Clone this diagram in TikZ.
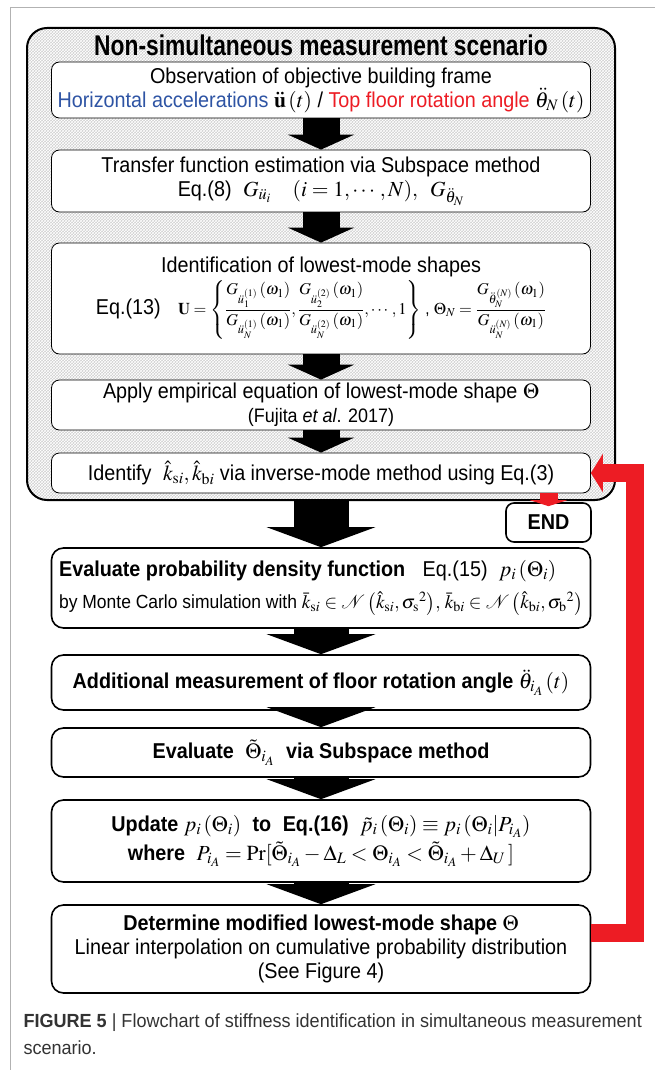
\documentclass[tikz,border=0pt]{standalone}
\usepackage{amsmath}
\usepackage{amssymb}
\usepackage{mathptmx}
\usepackage[no-math]{fontspec}
\setmainfont{Liberation Sans}[FakeStretch=0.92]
\newfontfamily\titlefont{Liberation Sans}[FakeStretch=0.8]
\newfontfamily\capfont{Liberation Sans}[FakeStretch=0.95]
\usetikzlibrary{arrows.meta,positioning,patterns}
\definecolor{fbred}{RGB}{237,28,36}
\definecolor{accblue}{RGB}{46,84,164}

\begin{document}
\begin{tikzpicture}[x=1pt,y=-1pt,
  inbox/.style={draw,line width=0.8pt,rounded corners=8pt,fill=white,minimum width=539pt,inner sep=0pt,align=center,font=\fontsize{21.5}{24}\selectfont},
  outbox/.style={draw,line width=1.6pt,rounded corners=12pt,fill=white,minimum width=539pt,inner sep=0pt,align=center,font=\fontsize{21.5}{24}\selectfont},
  inarrow/.style={line width=37pt,-{Triangle[width=66pt,length=15pt]}},
  outarrow/.style={line width=55pt,-{Triangle[width=108pt,length=20pt]}},
  fbarrow/.style={color=fbred,line width=18pt,-{Triangle[width=38pt,length=12pt]}}]
\useasboundingbox (0,0) rectangle (655,1070);
\draw[gray!60,line width=1pt] (655,8) -- (10,8) -- (10,1070);

% scenario frame
\node[draw,line width=2pt,rounded corners=20pt,minimum width=588pt,minimum height=472pt,
      preaction={fill=gray!38},pattern=crosshatch,pattern color=white] (scn) at (321,264) {};
\node[font=\titlefont\bfseries\fontsize{28.5}{30}\selectfont] (ttl) at (321,45) {Non-simultaneous measurement scenario};

\node[inbox,minimum height=56pt] (obs) at (321,90)
  {Observation of objective building frame\\
   {\color{accblue}Horizontal accelerations} $\mathbf{\ddot u}\left(t\right)$ / {\color{fbred}Top floor rotation angle} $\ddot{\theta}_N\left(t\right)$};
\node[inbox,minimum height=62pt] (tfe) at (321,181)
  {Transfer function estimation via Subspace method\\
   Eq.(8)\; $G_{\ddot u_i}\quad(i=1,\cdots,N),\;\; G_{\ddot\theta_N}$};
\node[inbox,minimum height=111pt] (lms) at (321,298.5)
  {Identification of lowest-mode shapes\\[2pt]
   Eq.(13)\;\; {\fontsize{16.5}{20}\selectfont $\mathbf{U}=\left\{\dfrac{G_{\ddot u_1^{(1)}}\left(\omega_1\right)}{G_{\ddot u_N^{(1)}}\left(\omega_1\right)},\dfrac{G_{\ddot u_2^{(2)}}\left(\omega_1\right)}{G_{\ddot u_N^{(2)}}\left(\omega_1\right)},\cdots,1\right\}$ , $\Theta_N=\dfrac{G_{\ddot\theta_N^{(N)}}\left(\omega_1\right)}{G_{\ddot u_N^{(N)}}\left(\omega_1\right)}$}};
\node[inbox,minimum height=50pt] (emp) at (321,405)
  {Apply empirical equation of lowest-mode shape $\boldsymbol{\Theta}$\\
   {\fontsize{19.5}{21}\selectfont (Fujita \textit{et al}. 2017)}};
\node[inbox,minimum height=40pt] (idf) at (321,473)
  {Identify\; $\hat k_{\mathrm{s}i},\hat k_{\mathrm{b}i}$ via inverse-mode method using Eq.(3)};

\node[draw,line width=1.6pt,rounded corners=8pt,fill=white,minimum width=85pt,minimum height=39pt,
      font=\bfseries\fontsize{21.5}{24}\selectfont] (endn) at (548.5,522.5) {END};

\node[outbox,minimum height=80pt,align=left] (pdf) at (321,588)
  {\textbf{Evaluate probability density function}\;\; Eq.(15)\; $p_i\left(\Theta_i\right)$\\[8pt]
   {\fontsize{19}{23}\selectfont by Monte Carlo simulation with $\bar k_{\mathrm{s}i}\in\mathcal{N}\left(\hat k_{\mathrm{s}i},\sigma_{\mathrm{s}}{}^2\right)\!,\, \bar k_{\mathrm{b}i}\in\mathcal{N}\left(\hat k_{\mathrm{b}i},\sigma_{\mathrm{b}}{}^2\right)$}};
\node[outbox,minimum height=55pt] (add) at (321,682.5)
  {\textbf{Additional measurement of floor rotation angle} $\ddot\theta_{i_A}\left(t\right)$};
\node[outbox,minimum height=49pt] (evs) at (321,752.5)
  {\textbf{Evaluate}\; $\tilde\Theta_{i_A}$\; \textbf{via Subspace method}};
\node[outbox,minimum height=82pt] (upd) at (321,841)
  {\textbf{Update} $p_i\left(\Theta_i\right)$\; \textbf{to\; Eq.(16)}\; $\tilde p_i\left(\Theta_i\right)\equiv p_i\left(\Theta_i\middle|P_{i_A}\right)$\\[3pt]
   \textbf{where}\; $P_{i_A}=\Pr[\tilde\Theta_{i_A}-\Delta_L<\Theta_{i_A}<\tilde\Theta_{i_A}+\Delta_U\,]$};
\node[outbox,minimum height=88pt] (dtm) at (321,949)
  {\textbf{Determine modified lowest-mode shape $\boldsymbol{\Theta}$}\\
   Linear interpolation on cumulative probability distribution\\
   (See Figure 4)};

% block arrows
\draw[inarrow] (obs) -- (tfe);
\draw[inarrow] (tfe) -- (lms);
\draw[inarrow] (lms) -- (emp);
\draw[inarrow] (emp) -- (idf);
\draw[outarrow] (scn) -- (pdf);
\draw[outarrow] (pdf) -- (add);
\draw[outarrow] (add) -- (evs);
\draw[outarrow] (evs) -- (upd);
\draw[outarrow] (upd) -- (dtm);

% feedback
\draw[fbarrow,-{Triangle[width=37pt,length=6pt]}] (idf.south -| endn) -- ([yshift=-4pt]endn.north);
\draw[fbarrow] ([yshift=16pt]dtm.east) -- ++(44,0) |- (idf.east);

\node[anchor=north west,align=left,text=black!80,font=\capfont\fontsize{19}{27}\selectfont] (cap) at (20,1010)
  {\textbf{FIGURE 5} | Flowchart of stiffness identification in simultaneous measurement\\ scenario.};
\end{tikzpicture}
\end{document}
